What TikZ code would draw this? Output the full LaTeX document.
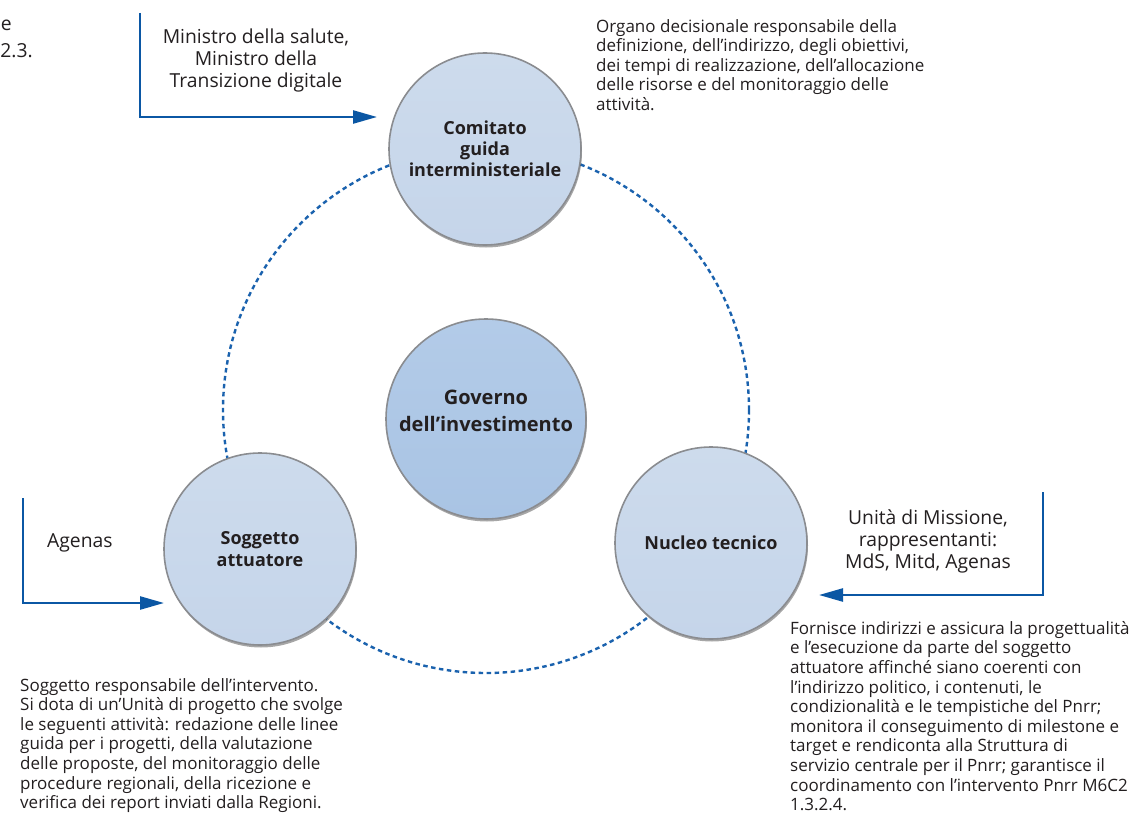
\documentclass[tikz,border=0pt]{standalone}
\usepackage{fontspec}
\setmainfont{Open Sans}
\usetikzlibrary{arrows.meta,shadows}
\definecolor{arrblue}{HTML}{0B57A4}
\definecolor{dotblue}{HTML}{1A62AE}
\definecolor{cfill}{HTML}{C5D5EA}
\definecolor{cfilltop}{HTML}{CDDBEC}
\definecolor{gfill}{HTML}{A9C4E4}
\definecolor{gfilltop}{HTML}{B3CBE8}
\definecolor{rim}{HTML}{8A8C90}
\definecolor{txt}{HTML}{231F20}
\begin{document}
\begin{tikzpicture}[x=1pt,y=-1pt,
  ball/.style={circle, minimum size=192pt, inner sep=0pt, top color=cfilltop, bottom color=cfill,
    draw=rim, line width=1.6pt, align=center, text=txt,
    drop shadow={shadow xshift=1pt, shadow yshift=-2.5pt, fill=black, opacity=0.35},
    font=\fontsize{18}{22}\selectfont\bfseries},
  govball/.style={ball, minimum size=200pt, top color=gfilltop, bottom color=gfill},
  desc/.style={inner sep=0pt, align=left, text=txt, font=\fontsize{17}{19.6}\selectfont},
  big/.style={inner sep=0pt, align=center, text=txt, font=\fontsize{19.3}{22}\selectfont},
  arrowline/.style={draw=arrblue, line width=2.4pt, -{Triangle[length=24pt,width=13pt]}},
  ring/.style={draw=dotblue, line width=2.4pt, dash pattern=on 4.5pt off 3.5pt}
]
\useasboundingbox (0,0) rectangle (1136,816);
\fill[white] (0,0) rectangle (1136,816);

% dotted ring
\draw[ring] (486,410) circle (263);

% circles
\node[ball, font=\fontsize{18}{21}\selectfont\bfseries] (comitato) at (485,149) {Comitato\\guida\\interministeriale};
\node[ball] (soggetto) at (260,549) {Soggetto\\attuatore};
\node[ball] (nucleo) at (711,543) {Nucleo tecnico};
\node[govball] (governo) at (486,419) {};
\node[text=txt, align=center, inner sep=0pt, font=\fontsize{20}{27}\selectfont\bfseries] (govtext) at (486,411) {Governo\\dell’investimento};

% cut-off fragments top left
\node[big, anchor=east] (frag1) at (12,25) {e};
\node[big, anchor=east] (frag2) at (33,51) {2.3.};

% arrows
\coordinate (a1s) at (140,13);
\coordinate (a1e) at (377,117);
\draw[arrowline] (a1s) |- (a1e);
\coordinate (a2s) at (23,498);
\coordinate (a2e) at (164,603);
\draw[arrowline] (a2s) |- (a2e);
\coordinate (a3s) at (1043,492);
\coordinate (a3e) at (819,595);
\draw[arrowline] (a3s) |- (a3e);

% labels
\node[big, anchor=north] (ministri) at (256,28.5) {Ministro della salute,\\Ministro della\\Transizione digitale};
\node[big, anchor=west] (agenas) at (47,543) {Agenas};
\node[big, anchor=north] (unita) at (928,510) {Unità di Missione,\\rappresentanti:\\MdS, Mitd, Agenas};

% descriptions
\node[desc, anchor=north west] (dcom) at (596,19) {Organo decisionale responsabile della\\definizione, dell’indirizzo, degli obiettivi,\\dei tempi di realizzazione, dell’allocazione\\delle risorse e del monitoraggio delle\\attività.};
\node[desc, anchor=north west] (dsog) at (20,678) {Soggetto responsabile dell’intervento.\\Si dota di un’Unità di progetto che svolge\\le seguenti attività: redazione delle linee\\guida per i progetti, della valutazione\\delle proposte, del monitoraggio delle\\procedure regionali, della ricezione e\\verifica dei report inviati dalla Regioni.};
\node[desc, anchor=north west] (dnuc) at (790,621) {Fornisce indirizzi e assicura la progettualità\\e l’esecuzione da parte del soggetto\\attuatore affinché siano coerenti con\\l’indirizzo politico, i contenuti, le\\condizionalità e le tempistiche del Pnrr;\\monitora il conseguimento di milestone e\\target e rendiconta alla Struttura di\\servizio centrale per il Pnrr; garantisce il\\coordinamento con l’intervento Pnrr M6C2\\1.3.2.4.};
\end{tikzpicture}
\end{document}
